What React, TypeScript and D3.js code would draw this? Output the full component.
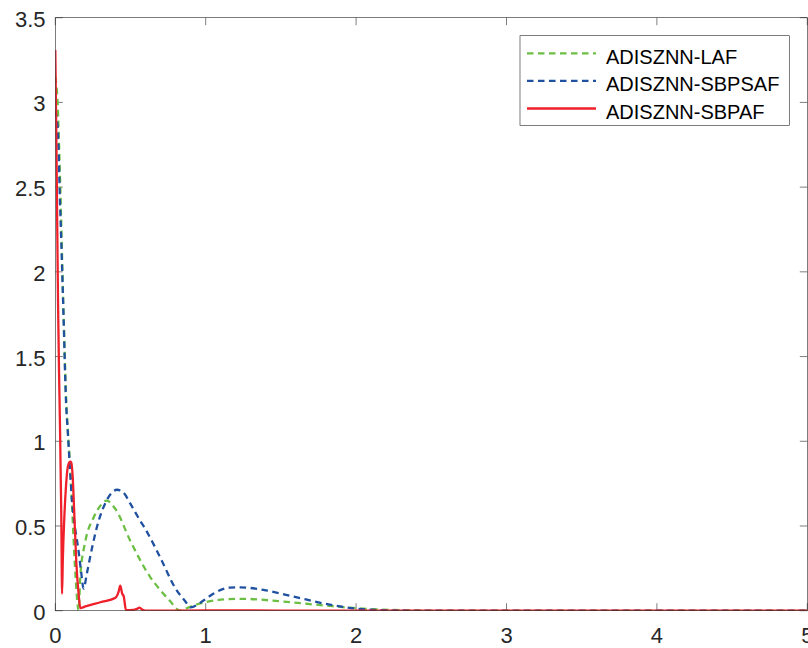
import React from "react";
import * as d3 from "d3";

const xTicks = [0, 1, 2, 3, 4, 5];
const yTicks = [0, 0.5, 1, 1.5, 2, 2.5, 3, 3.5];
const seriesNames = ["ADISZNN-LAF", "ADISZNN-SBPSAF", "ADISZNN-SBPAF"];
const seriesColors = ["#6cbf44", "#2050a0", "#f0202a"];
const seriesDashed = [true, true, false];

const lafT = [0, 0.015, 0.03, 0.055, 0.07, 0.093, 0.11, 0.12, 0.135, 0.155, 0.166, 0.2, 0.255, 0.3, 0.34, 0.4, 0.5, 0.63, 0.7, 0.76, 0.83, 0.9, 1.0, 1.1, 1.25, 1.5, 1.8, 2.0, 2.3, 2.6, 3, 4, 5];
const lafV = [3.15, 3.0, 2.6, 1.75, 1.3, 0.93, 0.65, 0.45, 0.2, 0.0, 0.2, 0.41, 0.55, 0.62, 0.65, 0.6, 0.41, 0.2, 0.12, 0.06, 0.0, 0.025, 0.05, 0.065, 0.07, 0.055, 0.03, 0.015, 0.003, 0.0, 0.0, 0.0, 0.0];

const sbpsafT = [0, 0.01, 0.018, 0.03, 0.04, 0.055, 0.071, 0.084, 0.1, 0.111, 0.13, 0.155, 0.173, 0.188, 0.21, 0.244, 0.288, 0.33, 0.37, 0.41, 0.45, 0.5, 0.565, 0.6, 0.7, 0.8, 0.86, 0.9, 0.985, 1.05, 1.16, 1.23, 1.4, 1.6, 1.8, 2.0, 2.2, 2.5, 3, 4, 5];
const sbpsafV = [2.95, 2.9, 2.82, 2.45, 2.17, 1.73, 1.24, 1.04, 0.8, 0.65, 0.5, 0.35, 0.22, 0.13, 0.22, 0.37, 0.53, 0.63, 0.69, 0.714, 0.7, 0.63, 0.53, 0.48, 0.31, 0.13, 0.06, 0.02, 0.06, 0.1, 0.136, 0.138, 0.12, 0.08, 0.04, 0.012, 0.003, 0.0, 0.0, 0.0, 0.0];

const sbpafT = [0, 0.008, 0.018, 0.025, 0.03, 0.04, 0.045, 0.05, 0.06, 0.07, 0.08, 0.09, 0.1, 0.106, 0.115, 0.125, 0.14, 0.155, 0.166, 0.2, 0.3, 0.4, 0.42, 0.432, 0.445, 0.455, 0.47, 0.52, 0.54, 0.56, 0.58, 0.6, 1, 2, 3, 4, 5];
const sbpafV = [3.31, 2.7, 1.83, 1.4, 1.15, 0.55, 0.1, 0.3, 0.55, 0.72, 0.83, 0.87, 0.88, 0.875, 0.8, 0.6, 0.28, 0.1, 0.015, 0.025, 0.05, 0.077, 0.11, 0.148, 0.1, 0.085, 0.003, 0.005, 0.01, 0.018, 0.005, 0.0, 0.002, 0.0, 0.0, 0.0, 0.0];

const seriesT = [lafT, sbpsafT, sbpafT];
const seriesV = [lafV, sbpsafV, sbpafV];

const W = 808;
const H = 648;
const left = 55.3, right = 807.3, top = 17.7, bottom = 610.7;

export default function App() {
  const x = d3.scaleLinear().domain([0, 5]).range([left, right]);
  const y = d3.scaleLinear().domain([0, 3.5]).range([bottom, top]);
  const line = d3
    .line<[number, number]>()
    .x((d) => x(d[0]))
    .y((d) => y(d[1]))
    .curve(d3.curveMonotoneX);
  const axisColor = "#262626";
  const font = "'Liberation Sans', Arial, Helvetica, sans-serif";
  const tickLen = 7.5;
  const legX = 520, legY = 35.7, legW = 269.3, legH = 89.6;
  const legRows = [53.3, 80.9, 108.5];
  const legBase = [63.5, 91, 118.5];

  return (
    <div style={{ position: "fixed", left: 0, top: 0 }}>
      <svg width={W} height={H} style={{ display: "block", background: "#fff" }}>
        <defs>
          <clipPath id="plotclip">
            <rect x={left} y={top - 2} width={right - left} height={bottom - top + 2} />
          </clipPath>
        </defs>
        <rect x={0} y={0} width={W} height={H} fill="#fff" />
        {xTicks.map((t) => (
          <g key={"xt" + t}>
            <line x1={x(t)} x2={x(t)} y1={bottom} y2={bottom - tickLen} stroke={axisColor} strokeWidth={0.6} />
            <line x1={x(t)} x2={x(t)} y1={top} y2={top + tickLen} stroke={axisColor} strokeWidth={0.6} />
            <text x={x(t)} y={643} textAnchor="middle" fontFamily={font} fontSize={22} fill={axisColor}>
              {String(t)}
            </text>
          </g>
        ))}
        {yTicks.map((t) => (
          <g key={"yt" + t}>
            <line x1={left} x2={left + tickLen} y1={y(t)} y2={y(t)} stroke={axisColor} strokeWidth={0.6} />
            <line x1={right} x2={right - tickLen} y1={y(t)} y2={y(t)} stroke={axisColor} strokeWidth={0.6} />
            <text x={45.5} y={y(t) + 9} textAnchor="end" fontFamily={font} fontSize={22} fill={axisColor}>
              {String(t)}
            </text>
          </g>
        ))}
        <g clipPath="url(#plotclip)">
          {seriesNames.map((name, i) => {
            const pts: [number, number][] = seriesT[i].map((t, j) => [t, seriesV[i][j]]);
            return (
              <path
                key={name}
                d={line(pts) || ""}
                fill="none"
                stroke={seriesColors[i]}
                strokeWidth={2.3}
                strokeDasharray={seriesDashed[i] ? "6.5,4.5" : undefined}
                strokeLinejoin="round"
              />
            );
          })}
        </g>
        <rect x={left} y={top} width={right - left} height={bottom - top} fill="none" stroke={axisColor} strokeWidth={0.6} />
        <rect x={legX} y={legY} width={legW} height={legH} fill="#fff" stroke={axisColor} strokeWidth={0.6} />
        {seriesNames.map((name, i) => (
          <g key={"leg" + name}>
            <line
              x1={527}
              x2={596}
              y1={legRows[i]}
              y2={legRows[i]}
              stroke={seriesColors[i]}
              strokeWidth={2.3}
              strokeDasharray={seriesDashed[i] ? "6.5,4.5" : undefined}
            />
            <text x={606} y={legBase[i]} fontFamily={font} fontSize={20} fill="#000">
              {name}
            </text>
          </g>
        ))}
      </svg>
    </div>
  );
}
